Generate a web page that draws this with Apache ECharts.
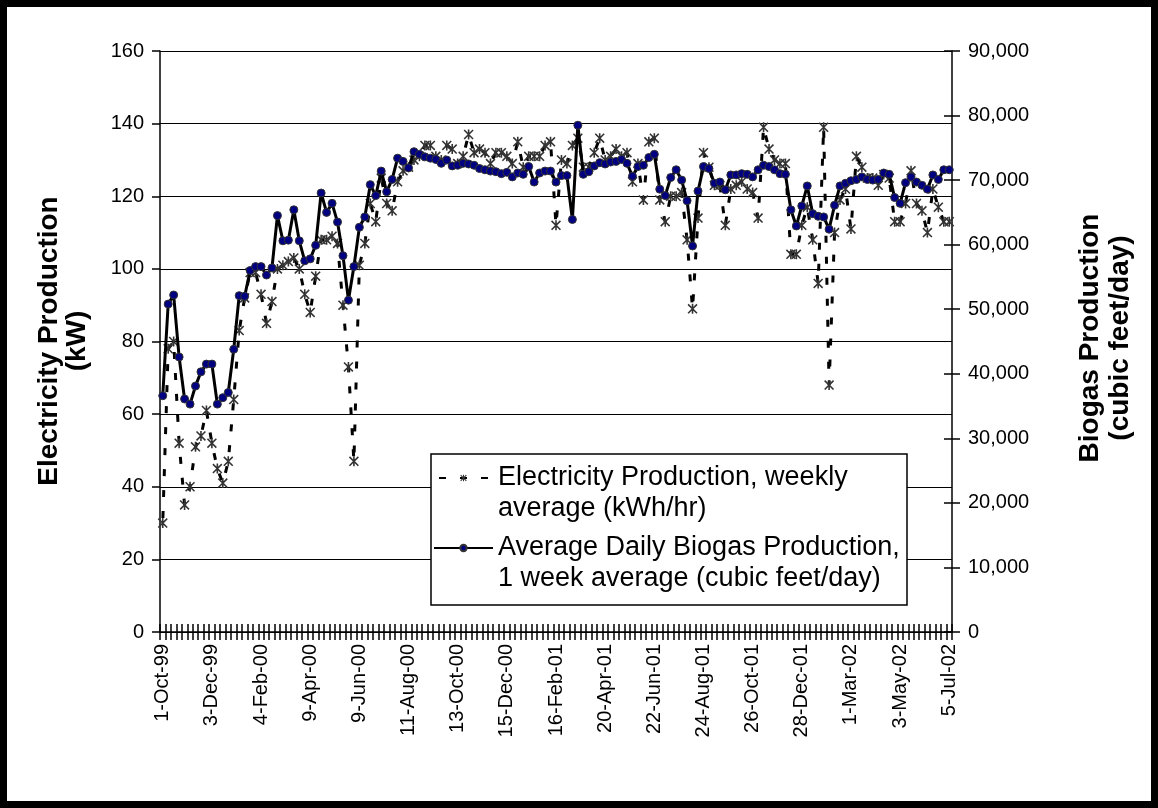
<!DOCTYPE html>
<html>
<head>
<meta charset="utf-8">
<script src="https://cdn.jsdelivr.net/npm/echarts@6/dist/echarts.min.js"></script>
<style>
html,body{margin:0;padding:0;background:#fff;}
#chart{width:1158px;height:808px;}
</style>
</head>
<body>
<div id="chart"></div>
<script>
// Tick labels shown every 9th weekly category
const tickLabels = ['1-Oct-99','3-Dec-99','4-Feb-00','9-Apr-00','9-Jun-00','11-Aug-00','13-Oct-00','15-Dec-00','16-Feb-01','20-Apr-01','22-Jun-01','24-Aug-01','26-Oct-01','28-Dec-01','1-Mar-02','3-May-02','5-Jul-02'];

// Electricity Production, weekly average (kWh/hr) - left axis
const electricity = [
30,78,80,52,35,40,51,54,61,52,45,41,47,64,83,
92,99,99,93,85,91,100,101,102,103,100,93,88,98,108,
108,109,107,90,73,47,101,107,118,113,125,118,116,124,127,
128,130,131,134,134,131,130,134,133,129,131,137,132,133,132,
129,132,132,131,129,135,128,131,131,131,134,135,112,130,129,
134,136,128,128,132,136,130,131,133,131,132,124,129,119,135,
136,119,113,120,120,121,108,89,114,132,128,123,123,112,122,
123,124,122,121,114,139,133,130,129,129,104,104,112,117,108,
96,139,68,110,119,122,111,131,128,125,125,123,126,125,113,
113,118,127,118,116,110,122,117,113,113
];

// Average Daily Biogas Production, 1 week average (cubic feet/day) - right axis
const biogas = [
36600,50800,52200,42600,36100,35300,38100,40300,41500,41500,35300,36300,37100,43800,52100,
52000,56000,56600,56600,55300,56400,64500,60600,60700,65400,60600,57500,57800,59900,68000,
65000,66400,63500,58300,51400,56600,62700,64300,69300,67600,71400,68200,70100,73400,72900,
71900,74400,74000,73600,73400,73200,72600,73100,72200,72300,72600,72500,72300,71800,71600,
71400,71300,71000,71200,70500,71100,70900,72100,69700,71100,71400,71400,69700,70700,70700,
63900,78500,70900,71300,72200,72700,72500,72800,72900,73200,72600,70600,72100,72300,73500,
74000,68600,67600,70400,71600,70000,66800,59800,68300,72100,71800,69500,69700,68500,70800,
70800,71000,70900,70500,71600,72300,72100,71600,71000,70900,65400,62900,66000,69100,64800,
64400,64300,62400,66100,69100,69500,69900,70100,70500,70100,70000,70100,71100,70900,67300,
66400,69600,70500,69700,69200,68600,70800,70100,71600,71600
];

const categories = electricity.map((v, i) => (i % 9 === 0 ? tickLabels[i / 9] : 'w' + i));

const FONT = '"Liberation Sans", Arial, sans-serif';
const asterisk = 'path://M4.2,0 L5.8,0 L5.8,10 L4.2,10 Z M1.1,0 L10,8.9 L8.9,10 L0,1.1 Z M8.9,0 L10,1.1 L1.1,10 L0,8.9 Z';

const chart = echarts.init(document.getElementById('chart'), null, {renderer: 'canvas'});
const fmt = v => String(v).replace(/\B(?=(\d{3})+(?!\d))/g, ',');

chart.setOption({
  animation: false,
  backgroundColor: '#fff',
  textStyle: {fontFamily: FONT},
  grid: {left: 160, top: 51, width: 792, height: 581, containLabel: false},
  legend: {
    orient: 'vertical',
    left: 433,
    top: 431.5,
    padding: 0,
    itemWidth: 59,
    itemHeight: 8,
    itemGap: -23,
    selectedMode: false,
    formatter: name => '\n' + name,
    textStyle: {fontFamily: FONT, fontSize: 27, color: '#000', lineHeight: 31},
    data: [
      {name: 'Electricity Production, weekly\naverage (kWh/hr)'},
      {name: 'Average Daily Biogas Production,\n1 week average (cubic feet/day)'}
    ]
  },
  graphic: [
    {type: 'rect', z: 3, shape: {x: 431, y: 454, width: 476, height: 151},
     style: {fill: '#fff', stroke: '#000', lineWidth: 1.5}},
    {type: 'rect', z: 10, shape: {x: 3.5, y: 3.5, width: 1151, height: 801},
     style: {fill: 'none', stroke: '#000', lineWidth: 7}},
    {type: 'text', z: 10, x: 63, y: 341, rotation: Math.PI / 2,
     style: {text: 'Electricity Production\n(kW)', font: 'bold 28px ' + FONT, fill: '#000',
             align: 'center', verticalAlign: 'middle', textAlign: 'center', textVerticalAlign: 'middle', lineHeight: 28}},
    {type: 'text', z: 10, x: 1105, y: 338, rotation: Math.PI / 2,
     style: {text: 'Biogas Production\n(cubic feet/day)', font: 'bold 28px ' + FONT, fill: '#000',
             align: 'center', verticalAlign: 'middle', textAlign: 'center', textVerticalAlign: 'middle', lineHeight: 30}}
  ],
  xAxis: [
    {
      type: 'category', data: categories, position: 'bottom', boundaryGap: true,
      axisLine: {lineStyle: {color: '#000', width: 1.5}},
      axisTick: {show: true, interval: 0, length: 8, inside: false, lineStyle: {color: '#000', width: 1.5}},
      axisLabel: {interval: 8, rotate: 90, margin: 12, fontSize: 20, color: '#000', fontFamily: FONT},
      splitLine: {show: false}
    },
    {
      type: 'category', data: categories, position: 'bottom', boundaryGap: true,
      axisLine: {show: false},
      axisTick: {show: true, interval: 0, length: 8, inside: true, lineStyle: {color: '#000', width: 1.5}},
      axisLabel: {show: false},
      splitLine: {show: false}
    }
  ],
  yAxis: [
    {
      type: 'value', position: 'left', min: 0, max: 160, interval: 20,
      axisLine: {show: true, lineStyle: {color: '#000', width: 1.5}},
      axisTick: {show: true, length: 8, lineStyle: {color: '#000', width: 1.5}},
      axisLabel: {margin: 16, fontSize: 20, color: '#000', fontFamily: FONT},
      splitLine: {show: true, lineStyle: {color: '#000', width: 1.2}}
    },
    {
      type: 'value', position: 'right', min: 0, max: 90000, interval: 10000,
      axisLine: {show: true, lineStyle: {color: '#000', width: 1.5}},
      axisTick: {show: true, length: 8, lineStyle: {color: '#000', width: 1.5}},
      axisLabel: {margin: 16, fontSize: 20, color: '#000', fontFamily: FONT, formatter: fmt},
      splitLine: {show: false}
    },
    {
      type: 'value', position: 'right', min: 0, max: 90000, interval: 10000,
      axisLine: {show: false},
      axisTick: {show: true, inside: true, length: 8, lineStyle: {color: '#000', width: 1.5}},
      axisLabel: {show: false},
      splitLine: {show: false}
    }
  ],
  series: [
    {
      name: 'Electricity Production, weekly\naverage (kWh/hr)',
      type: 'line', xAxisIndex: 0, yAxisIndex: 0, data: electricity, z: 2,
      symbol: asterisk, symbolSize: 10, showAllSymbol: true,
      lineStyle: {color: '#000', width: 3, type: [7, 14], dashOffset: 16},
      itemStyle: {color: '#333', borderWidth: 0}
    },
    {
      name: 'Average Daily Biogas Production,\n1 week average (cubic feet/day)',
      type: 'line', xAxisIndex: 0, yAxisIndex: 1, data: biogas, z: 3,
      symbol: 'circle', symbolSize: 8, showAllSymbol: true,
      lineStyle: {color: '#000', width: 3},
      itemStyle: {color: '#000080', borderColor: '#333', borderWidth: 1}
    }
  ]
});
</script>
</body>
</html>
